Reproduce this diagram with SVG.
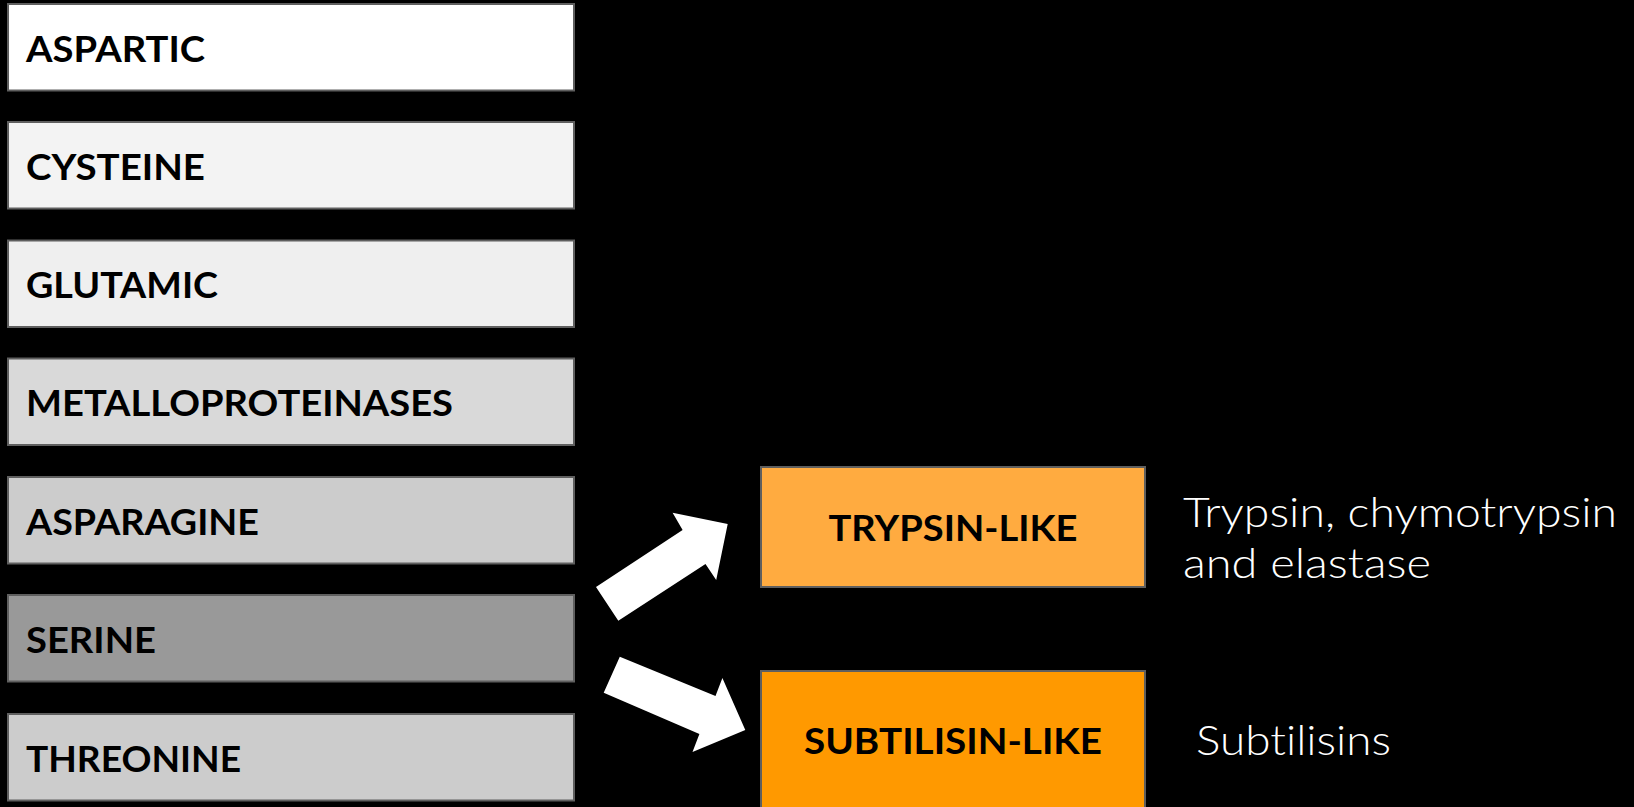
<svg xmlns="http://www.w3.org/2000/svg" width="1634" height="807" viewBox="0 0 1634 807">
<style>
.box{stroke:#5f5f5f;stroke-width:2}
.lbl{font-family:Lato,"Liberation Sans",sans-serif;font-weight:700;font-size:36px;fill:#000;font-variant-ligatures:none}
.note{font-family:Lato,"Liberation Sans",sans-serif;font-weight:300;font-size:41px;fill:#fff;font-variant-ligatures:none}
.arrow{fill:#fff}
</style>
<rect width="1634" height="807" fill="#000"/>
<g id="aspartic"><rect class="box" x="8" y="4" width="566" height="86.5" fill="#ffffff"/><text class="lbl" x="26" y="61.5" textLength="179" lengthAdjust="spacingAndGlyphs">ASPARTIC</text></g>
<g id="cysteine"><rect class="box" x="8" y="122" width="566" height="86.5" fill="#f3f3f3"/><text class="lbl" x="26" y="179.5" textLength="179" lengthAdjust="spacingAndGlyphs">CYSTEINE</text></g>
<g id="glutamic"><rect class="box" x="8" y="240.5" width="566" height="86.5" fill="#efefef"/><text class="lbl" x="26" y="298" textLength="192" lengthAdjust="spacingAndGlyphs">GLUTAMIC</text></g>
<g id="metalloproteinases"><rect class="box" x="8" y="358.5" width="566" height="86.5" fill="#d9d9d9"/><text class="lbl" x="26" y="416" textLength="427" lengthAdjust="spacingAndGlyphs">METALLOPROTEINASES</text></g>
<g id="asparagine"><rect class="box" x="8" y="477" width="566" height="86.5" fill="#cccccc"/><text class="lbl" x="26" y="534.5" textLength="233" lengthAdjust="spacingAndGlyphs">ASPARAGINE</text></g>
<g id="serine"><rect class="box" x="8" y="595" width="566" height="86.5" fill="#999999"/><text class="lbl" x="26" y="652.5" textLength="130" lengthAdjust="spacingAndGlyphs">SERINE</text></g>
<g id="threonine"><rect class="box" x="8" y="714" width="566" height="86.5" fill="#cccccc"/><text class="lbl" x="26" y="771.5" textLength="215" lengthAdjust="spacingAndGlyphs">THREONINE</text></g>
<g id="trypsin-like"><rect class="box" x="761" y="467" width="384" height="120" fill="#ffab40"/><text class="lbl" x="953" y="540.5" text-anchor="middle" textLength="249" lengthAdjust="spacingAndGlyphs">TRYPSIN-LIKE</text></g>
<g id="subtilisin-like"><rect class="box" x="761" y="671" width="384" height="140" fill="#ff9900"/><text class="lbl" x="953" y="754" text-anchor="middle" textLength="298" lengthAdjust="spacingAndGlyphs">SUBTILISIN-LIKE</text></g>
<g id="note-trypsin"><text class="note" x="1183" y="526.5" textLength="434" lengthAdjust="spacingAndGlyphs">Trypsin, chymotrypsin</text><text class="note" x="1183" y="577.5" textLength="248" lengthAdjust="spacingAndGlyphs">and elastase</text></g>
<g id="note-subtilisin"><text class="note" x="1196" y="755" textLength="195" lengthAdjust="spacingAndGlyphs">Subtilisins</text></g>
<g id="connectors">
<polygon class="arrow" points="596,587 682.6,530 672.6,512.7 727.7,524 716.2,580 705.5,564 618.3,620.7"/>
<polygon class="arrow" points="619.8,656.7 715.5,696 722.4,678 745.3,730 692.5,752 699.4,734 603.7,692.7"/>
</g>
</svg>
